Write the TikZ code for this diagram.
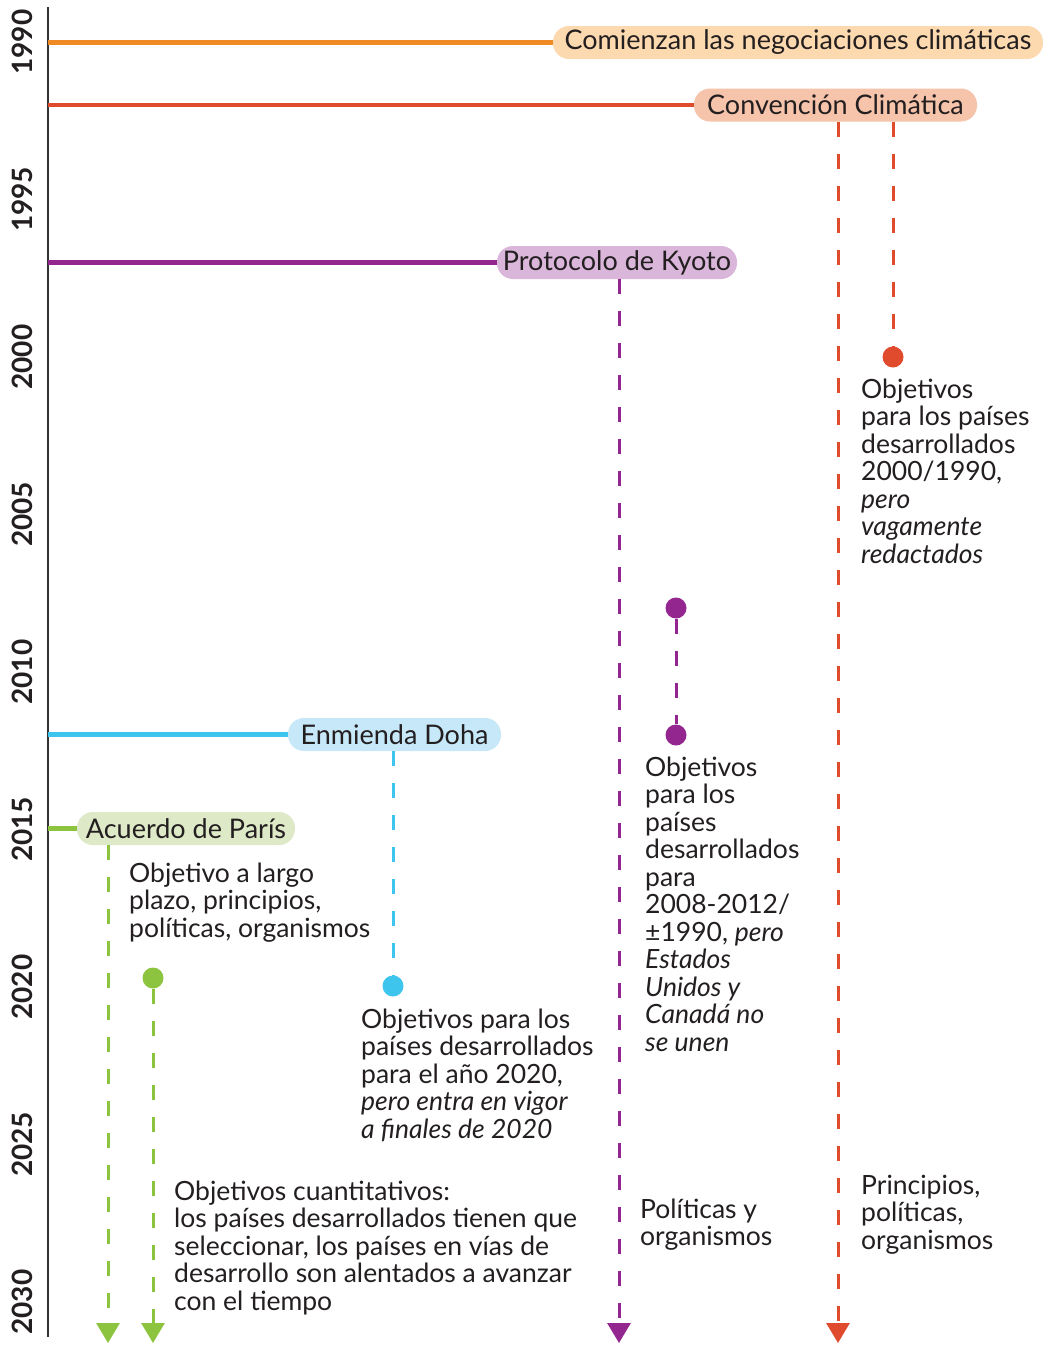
\documentclass[tikz,border=0pt]{standalone}
\usepackage{fontspec}
\setmainfont{Lato}
\usetikzlibrary{arrows.meta}
\definecolor{txt}{HTML}{231F20}
\definecolor{cOra}{HTML}{F08A24}
\definecolor{pOra}{HTML}{FDD9B0}
\definecolor{cRed}{HTML}{E04B2E}
\definecolor{pRed}{HTML}{F6C3AB}
\definecolor{cPur}{HTML}{93278F}
\definecolor{pPur}{HTML}{D9B6DA}
\definecolor{cCya}{HTML}{3DC5EE}
\definecolor{pCya}{HTML}{C6E8F8}
\definecolor{cGre}{HTML}{8CC43F}
\definecolor{pGre}{HTML}{DDE9C7}
\definecolor{axis}{HTML}{333333}
\begin{document}
\begin{tikzpicture}[x=1pt,y=-1pt,
  every node/.style={text=txt,font=\fontsize{26.5}{27.5}\selectfont},
  pill/.style={rounded corners=16pt,minimum height=33pt,inner sep=0pt,fill=#1,font=\fontsize{27}{27.5}\selectfont},
  hline/.style={line width=4.5pt,draw=#1},
  dline/.style={line width=3pt,draw=#1,dash pattern=on 15pt off 17pt},
  arr/.style={-{Triangle[width=23pt,length=20pt]},#1},
  dot/.style={circle,fill=#1,minimum size=21pt,inner sep=0pt},
  yr/.style={rotate=90,font=\fontsize{28}{28}\selectfont\bfseries,text=txt},
  lbl/.style={anchor=base west,align=left,inner sep=0pt}]
\useasboundingbox[fill=white] (0,0) rectangle (1044,1345);
% axis
\coordinate (axtop) at (48,7);
\coordinate (axbot) at (48,1337);
\draw[line width=2.5pt,draw=axis] (axtop) -- (axbot);
% years
\foreach \yy/\yp in {1990/42,1995/199.5,2000/357,2005/514.5,2010/672,2015/829.5,2020/987,2025/1144.5,2030/1302}
  \node[yr] (y\yy) at (22,\yp) {\yy};
% pills
\node[pill=pOra,minimum width=490pt] (p1) at (798,42.5) {Comienzan las negociaciones climáticas};
\node[pill=pRed,minimum width=283pt] (p2) at (835.5,105) {Convención Climática};
\node[pill=pPur,minimum width=240pt] (p3) at (617,262.5) {Protocolo de Kyoto};
\node[pill=pCya,minimum width=213pt] (p4) at (394.5,734.5) {Enmienda Doha};
\node[pill=pGre,minimum width=218pt] (p5) at (186,828.5) {Acuerdo de París};
% horizontal lines
\draw[hline=cOra] (p1.west -| axtop) -- (p1.west);
\draw[hline=cRed] (p2.west -| axtop) -- (p2.west);
\draw[hline=cPur] (p3.west -| axtop) -- (p3.west);
\draw[hline=cCya] (p4.west -| axtop) -- (p4.west);
\draw[hline=cGre] (p5.west -| axtop) -- (p5.west);
% dots and ends
\node[dot=cRed] (d1) at (893,357) {};
\node[dot=cPur] (d2) at (676,608) {};
\node[dot=cPur] (d3) at (676,735) {};
\node[dot=cCya] (d4) at (393,986) {};
\node[dot=cGre] (d5) at (153,978) {};
\coordinate (eR) at (838,1343);
\coordinate (eP) at (619,1343);
\coordinate (eG1) at (108,1343);
\coordinate (eG2) at (153,1343);
% dashed connectors
\draw[dline=cRed,arr=cRed] (p2.south -| eR) -- (eR);
\draw[dline=cRed] (p2.south -| d1) -- (d1);
\draw[dline=cPur,arr=cPur] (p3.south -| eP) -- (eP);
\draw[dline=cPur] (d2) -- (d3);
\draw[dline=cCya] (p4.south -| d4) -- (d4);
\draw[dline=cGre,arr=cGre] (p5.south -| eG1) -- (eG1);
\draw[dline=cGre,arr=cGre] (d5) -- (eG2);
% labels (anchored at the baseline of their last line)
\node[lbl] (t1) at (861,563) {Objetivos\\para los países\\desarrollados\\2000/1990,\\\textit{pero}\\\textit{vagamente}\\\textit{redactados}};
\node[lbl] (t2) at (645,1051) {Objetivos\\para los\\países\\desarrollados\\para\\2008-2012/\\±1990, \textit{pero}\\\textit{Estados}\\\textit{Unidos y}\\\textit{Canadá no}\\\textit{se unen}};
\node[lbl] (t3) at (129,937) {Objetivo a largo\\plazo, principios,\\políticas, organismos};
\node[lbl] (t4) at (361,1138) {Objetivos para los\\países desarrollados\\para el año 2020,\\\textit{pero entra en vigor}\\\textit{a finales de 2020}};
\node[lbl] (t5) at (174,1310) {Objetivos cuantitativos:\\los países desarrollados tienen que\\seleccionar, los países en vías de\\desarrollo son alentados a avanzar\\con el tiempo};
\node[lbl] (t6) at (640,1245.5) {Políticas y\\organismos};
\node[lbl] (t7) at (861,1249) {Principios,\\políticas,\\organismos};
\end{tikzpicture}
\end{document}
